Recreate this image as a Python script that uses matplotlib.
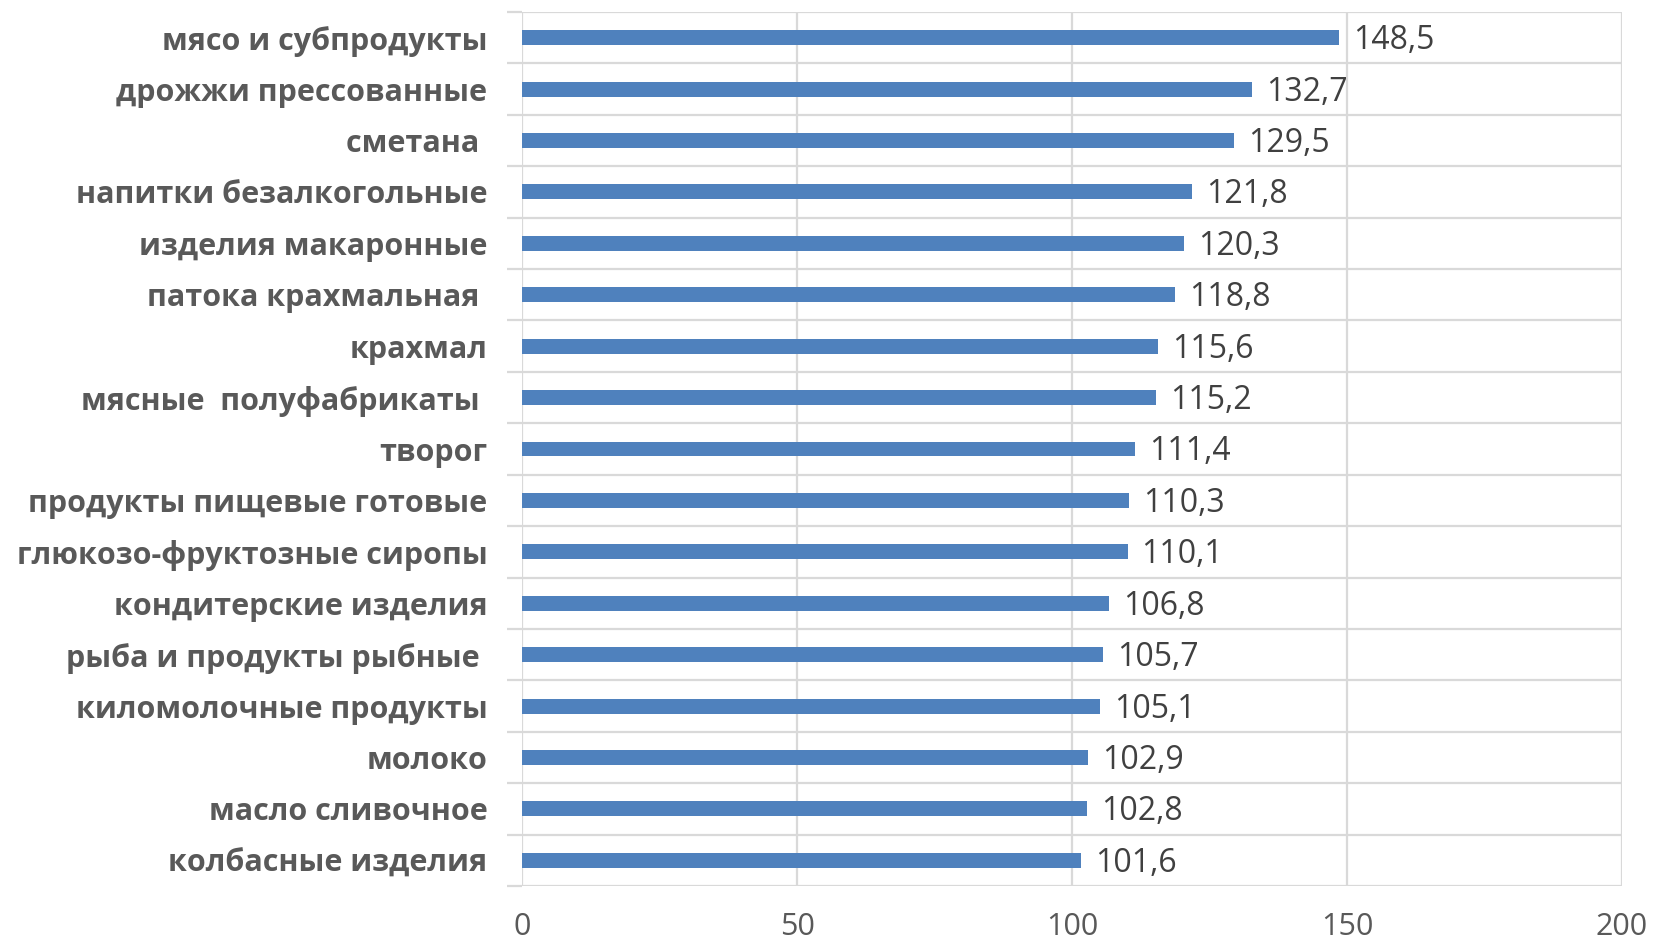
import numpy as np
import matplotlib
matplotlib.use('Agg')
import matplotlib.pyplot as plt

# Categories listed from top to bottom, as in the picture
CATEGORIES = [
    'мясо и субпродукты',
    'дрожжи прессованные',
    'сметана ',
    'напитки безалкогольные',
    'изделия макаронные',
    'патока крахмальная ',
    'крахмал',
    'мясные  полуфабрикаты ',
    'творог',
    'продукты пищевые готовые',
    'глюкозо-фруктозные сиропы',
    'кондитерские изделия',
    'рыба и продукты рыбные ',
    'киломолочные продукты',
    'молоко',
    'масло сливочное',
    'колбасные изделия',
]
VALUES = [148.5, 132.7, 129.5, 121.8, 120.3, 118.8, 115.6, 115.2, 111.4,
          110.3, 110.1, 106.8, 105.7, 105.1, 102.9, 102.8, 101.6]
X_TICKS = [0, 50, 100, 150, 200]

BAR_COLOR = '#4F81BD'
GRID_COLOR = '#D9D9D9'
TEXT_COLOR = '#595959'
FONT = ['Open Sans', 'DejaVu Sans']

plt.rcParams['font.family'] = FONT

W, H = 1654, 950
fig = plt.figure(figsize=(W / 100, H / 100), dpi=100)
ax = fig.add_axes([522 / W, (H - 886) / H, 1100 / W, 874 / H])

y = np.arange(len(CATEGORIES))
ax.barh(y, VALUES, height=0.29, color=BAR_COLOR, zorder=3)

for yi, v in zip(y, VALUES):
    ax.annotate(f'{v:.1f}'.replace('.', ','), xy=(v, yi), xytext=(14, -3),
                textcoords='offset pixels', ha='left', va='center',
                fontsize=23, color='#404040', zorder=4)

ax.set_xlim(0, 200)
ax.set_ylim(len(CATEGORIES) - 0.5, -0.5)

ax.set_xticks(X_TICKS)
ax.set_xticklabels([str(t) for t in X_TICKS], fontsize=22, color=TEXT_COLOR)
ax.tick_params(axis='x', length=0, pad=19)

ax.set_yticks(y)
ax.set_yticklabels(CATEGORIES, fontsize=22, fontweight='bold', color=TEXT_COLOR)
ax.set_yticks(np.arange(len(CATEGORIES) + 1) - 0.5, minor=True)
ax.tick_params(axis='y', which='major', length=0, pad=25)
ax.tick_params(axis='y', which='minor', length=11, width=1.6, color=GRID_COLOR)

ax.grid(axis='x', which='major', color=GRID_COLOR, linewidth=1.6, zorder=0)
ax.grid(axis='y', which='minor', color=GRID_COLOR, linewidth=1.6, zorder=0)
for s in ax.spines.values():
    s.set_visible(False)

fig.savefig('out.png', dpi=100)
